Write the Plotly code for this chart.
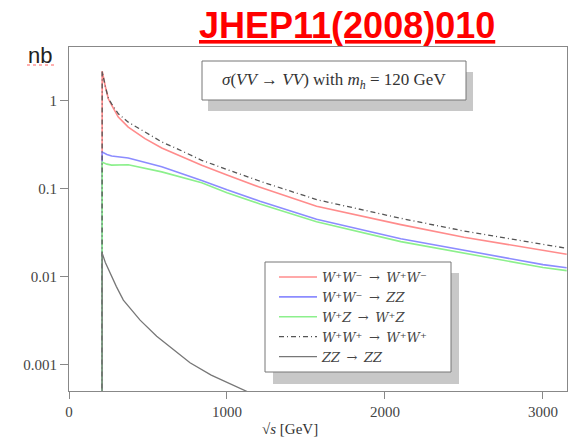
import plotly.graph_objects as go

# ---------------- data ----------------
x_ww_ww = [208, 208, 210, 230, 249, 270, 312, 375, 481, 587, 692, 840, 1000, 1200, 1567, 2100, 2500, 3000, 3150]
y_ww_ww = [1e-6, 1.2, 2.16, 1.45, 1.05, 0.89, 0.65, 0.50, 0.37, 0.29, 0.24, 0.185, 0.143, 0.105, 0.063, 0.039, 0.028, 0.0198, 0.018]

x_ww_zz = [208, 208, 210, 240, 270, 375, 587, 840, 1000, 1209, 1567, 2100, 2500, 3000, 3150]
y_ww_zz = [1e-6, 0.2, 0.261, 0.245, 0.235, 0.223, 0.177, 0.124, 0.097, 0.072, 0.045, 0.027, 0.020, 0.0137, 0.0126]

x_wz_wz = [208, 208, 210, 240, 270, 375, 587, 840, 1000, 1209, 1567, 2100, 2500, 3000, 3150]
y_wz_wz = [1e-6, 0.15, 0.20, 0.19, 0.185, 0.187, 0.155, 0.117, 0.090, 0.067, 0.042, 0.025, 0.0185, 0.0127, 0.0117]

x_wpwp = [208, 208, 210, 230, 249, 270, 312, 375, 481, 587, 692, 840, 1000, 1200, 1567, 2100, 2500, 3000, 3150]
y_wpwp = [1e-6, 1.2, 2.16, 1.45, 1.06, 0.92, 0.71, 0.57, 0.44, 0.34, 0.28, 0.21, 0.165, 0.123, 0.075, 0.046, 0.033, 0.023, 0.021]

x_zz_zz = [208, 208, 210, 230, 259, 300, 344, 450, 555, 766, 900, 1103, 1200]
y_zz_zz = [1e-6, 0.015, 0.0185, 0.0145, 0.011, 0.0077, 0.0054, 0.0032, 0.0021, 0.00105, 0.00076, 0.00051, 0.00043]

sp = "\u2002"
series_names = [
    f"<i>W⁺W⁻</i>{sp}→{sp}<i>W⁺W⁻</i>",
    f"<i>W⁺W⁻</i>{sp}→{sp}<i>ZZ</i>",
    f"<i>W⁺Z</i>{sp}→{sp}<i>W⁺Z</i>",
    f"<i>W⁺W⁺</i>{sp}→{sp}<i>W⁺W⁺</i>",
    f"<i>ZZ</i>{sp}→{sp}<i>ZZ</i>",
]

y_tick_vals = [0.001, 0.01, 0.1, 1]
y_tick_text = ["0.001", "0.01", "0.1", "1"]
x_tick_vals = [0, 1000, 2000, 3000]
x_tick_text = ["0", "1000", "2000", "3000"]

# ---------------- layout helpers ----------------
W, H = 588, 438
L, R, T, B = 69, 567, 47, 391  # plot area in pixels


def px(xp):
    return (xp - L) / (R - L)


def py(yp):
    return (B - yp) / (B - T)


fig = go.Figure()

styles = [
    dict(color="#ff8c8c", width=1.6),
    dict(color="#8c8cff", width=1.6),
    dict(color="#8cf08c", width=1.6),
    dict(color="#555555", width=1.3, dash="5px,3px,1px,3px"),
    dict(color="#777777", width=1.3),
]
data = [(x_ww_ww, y_ww_ww), (x_ww_zz, y_ww_zz), (x_wz_wz, y_wz_wz),
        (x_wpwp, y_wpwp), (x_zz_zz, y_zz_zz)]

for (xs, ys), name, st in zip(data, series_names, styles):
    fig.add_trace(go.Scatter(x=xs, y=ys, mode="lines", name=name, line=st))

axis_color = "#888888"
tick_font = dict(family="Liberation Serif", size=15, color="#444444")

fig.update_xaxes(range=[0, 3152], tickvals=x_tick_vals, ticktext=x_tick_text,
                 showline=True, linecolor=axis_color, linewidth=1, mirror=True,
                 ticks="outside", ticklen=7, tickcolor=axis_color,
                 showgrid=False, zeroline=False, tickfont=tick_font)
fig.update_yaxes(type="log", range=[-3.30, 0.61], tickvals=y_tick_vals,
                 ticktext=y_tick_text, showline=True, linecolor=axis_color,
                 linewidth=1, mirror=True, ticks="outside", ticklen=8,
                 tickcolor=axis_color, showgrid=False, zeroline=False,
                 tickfont=tick_font)

shapes = [
    # label box shadow and box
    dict(type="rect", xref="paper", yref="paper", x0=px(208), x1=px(473), y0=py(111), y1=py(72),
         fillcolor="#c8c8c8", line=dict(width=0), layer="above"),
    dict(type="rect", xref="paper", yref="paper", x0=px(202), x1=px(466), y0=py(100), y1=py(61),
         fillcolor="white", line=dict(color="#777777", width=1), layer="above"),
    # legend box shadow and box
    dict(type="rect", xref="paper", yref="paper", x0=px(273), x1=px(459), y0=py(384), y1=py(273),
         fillcolor="#c8c8c8", line=dict(width=0), layer="above"),
    dict(type="rect", xref="paper", yref="paper", x0=px(265), x1=px(451), y0=py(372), y1=py(262),
         fillcolor="white", line=dict(color="#777777", width=1), layer="above"),
    # red spell-check squiggle under "nb"
    dict(type="line", xref="paper", yref="paper", x0=px(27), x1=px(57), y0=py(65), y1=py(65),
         line=dict(color="#ff6060", width=1, dash="dot")),
]

annotations = [
    dict(text="JHEP11(2008)010", xref="paper", yref="paper", x=px(347), y=py(25),
         xanchor="center", yanchor="middle", showarrow=False,
         font=dict(family="Liberation Sans", size=36, color="#ff0000", weight="bold",
                   lineposition="under")),
    dict(text="nb", xref="paper", yref="paper", x=px(26), y=py(55),
         xanchor="left", yanchor="middle", showarrow=False,
         font=dict(family="Liberation Sans", size=22, color="#222222")),
    dict(text="<i>σ</i>(<i>VV</i> → <i>VV</i>) with <i>m<sub>h</sub></i> = 120 GeV",
         xref="paper", yref="paper", x=px(334), y=py(81), xanchor="center", yanchor="middle",
         showarrow=False, font=dict(family="Liberation Serif", size=17, color="#333333")),
    dict(text="√<i>s</i> [GeV]", xref="paper", yref="paper", x=px(290), y=py(429),
         xanchor="center", yanchor="middle", showarrow=False,
         font=dict(family="Liberation Serif", size=15, color="#333333")),
]

fig.update_layout(
    width=W, height=H,
    margin=dict(l=L, r=W - R, t=T, b=H - B),
    paper_bgcolor="white", plot_bgcolor="white",
    shapes=shapes, annotations=annotations,
    showlegend=True,
    legend=dict(x=px(274), y=py(262), xanchor="left", yanchor="top",
                bgcolor="rgba(0,0,0,0)", borderwidth=0, itemwidth=38,
                font=dict(family="DejaVu Serif", size=13, color="#444444"),
                tracegroupgap=0),
)

fig.write_html("out.html")
